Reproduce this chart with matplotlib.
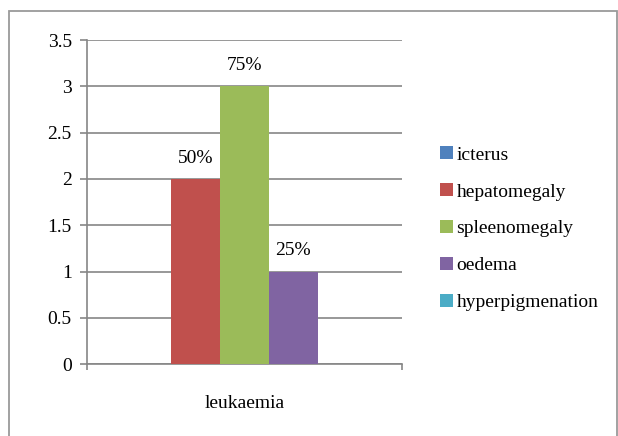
import matplotlib.pyplot as plt
import numpy as np
from matplotlib.patches import Rectangle

plt.rcParams['font.family'] = ['Liberation Serif', 'DejaVu Serif']

category = 'leukaemia'
symptoms = ['icterus', 'hepatomegaly', 'spleenomegaly', 'oedema', 'hyperpigmenation']
values = [0, 2, 3, 1, 0]
pct_labels = ['', '50%', '75%', '25%', '']
colors = ['#4F81BD', '#C0504D', '#9BBB59', '#8064A2', '#4BACC6']

grid_col = '#868686'
fs = 14

fig = plt.figure(figsize=(6.18, 4.36), dpi=100)
ax = fig.add_axes([0.1408, 0.165, 0.5097, 0.743])

width = 0.155
n = len(symptoms)
offsets = (np.arange(n) - (n - 1) / 2) * width
for off, val, col, name, lab in zip(offsets, values, colors, symptoms, pct_labels):
    ax.bar(off, val, width, color=col, label=name, zorder=3)
    if lab:
        ax.annotate(lab, (off, val), xytext=(0, 15), textcoords='offset points',
                    ha='center', va='center', fontsize=fs)

ax.set_xlim(-0.5, 0.5)
ax.set_ylim(0, 3.5)
ax.set_yticks(np.arange(0, 3.6, 0.5))
ax.set_yticklabels(['0', '0.5', '1', '1.5', '2', '2.5', '3', '3.5'])
ax.yaxis.grid(True, color=grid_col, linewidth=1.2, zorder=0)
ax.set_axisbelow(True)

ax.set_xticks([0])
ax.set_xticklabels([category])
ax.set_xticks([-0.5, 0.5], minor=True)
ax.tick_params(axis='x', which='major', length=0, pad=22, labelsize=fs)
ax.tick_params(axis='x', which='minor', length=4, color=grid_col, width=1.2)
ax.tick_params(axis='y', length=5, color=grid_col, width=1.2, labelsize=fs, pad=6)

for side in ['top', 'right']:
    ax.spines[side].set_visible(False)
for side in ['left', 'bottom']:
    ax.spines[side].set_color(grid_col)
    ax.spines[side].set_linewidth(1.2)

leg = fig.legend(loc='upper left', bbox_to_anchor=(0.712, 0.664), frameon=False,
                 fontsize=fs, handlelength=0.65, handleheight=0.65, handletextpad=0.2,
                 labelspacing=1.0, borderpad=0, borderaxespad=0)

fig.patches.append(Rectangle((0.0146, -0.05), 0.984, 1.025, transform=fig.transFigure,
                             fill=False, edgecolor='#9a9a9a', linewidth=1.3))

fig.savefig('out.png', dpi=100)
